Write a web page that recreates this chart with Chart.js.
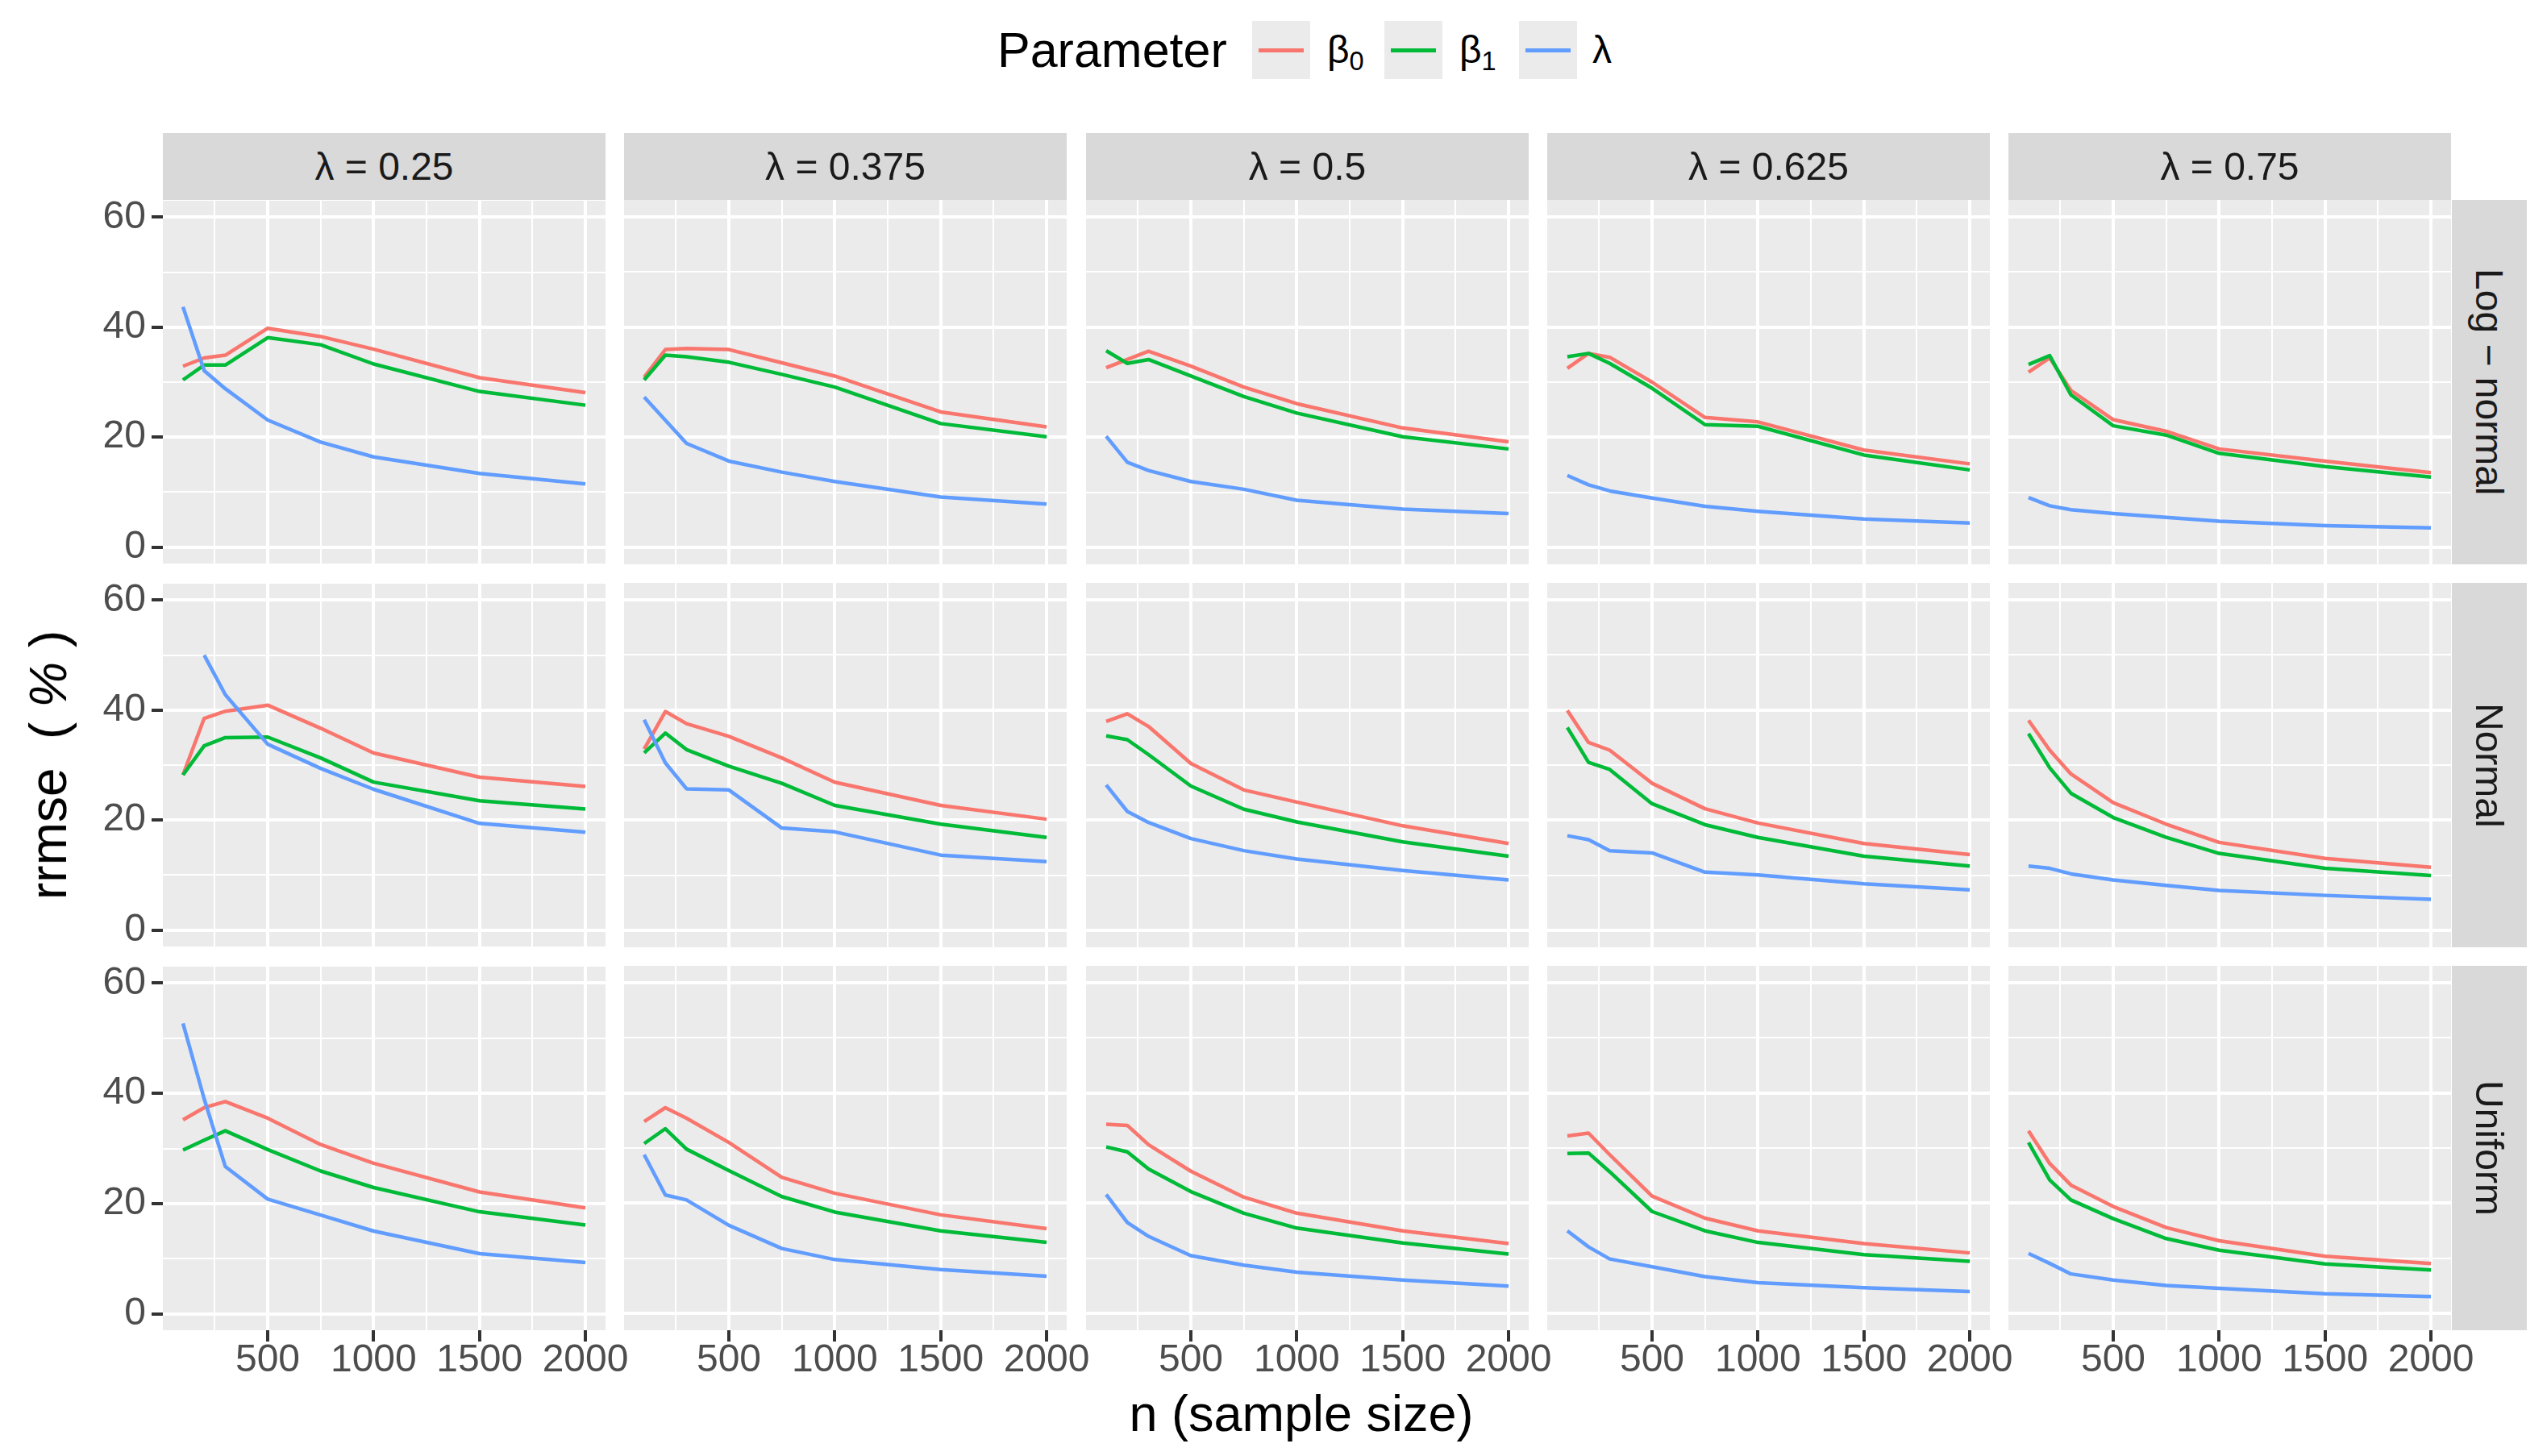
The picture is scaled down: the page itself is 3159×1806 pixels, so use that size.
<!DOCTYPE html>
<html>
<head>
<meta charset="utf-8">
<script src="https://cdn.jsdelivr.net/npm/chart.js@4.4.0/dist/chart.umd.min.js"></script>
<style>
  body { margin: 0; background: #fff; }
  #page { position: relative; width: 3159px; height: 1806px; overflow: hidden;
          font-family: "Liberation Sans", Arial, sans-serif; }
  canvas { position: absolute; }
  .strip { position: absolute; background: #D9D9D9; color: #1A1A1A; font-size: 48px;
           display: flex; align-items: center; justify-content: center; white-space: pre; }
  .strip.side { writing-mode: vertical-rl; }
  .title { position: absolute; color: #000; font-size: 63px; white-space: pre;
           transform: translate(-50%, -50%); }
  .key { position: absolute; width: 72px; height: 72px; background: #EBEBEB; }
  .key span { position: absolute; left: 8px; right: 8px; top: 34px; height: 4.5px; }
  .lab { position: absolute; font-size: 48px; color: #000; line-height: 72px; }
  .lab sub { font-size: 68%; vertical-align: -0.28em; }
</style>
</head>
<body>
<div id="page"></div>
<script>
"use strict";

// x positions (sample size) and facet levels
var nValues = [100, 200, 300, 500, 750, 1000, 1500, 2000];
var lambdaLevels = ["0.25", "0.375", "0.5", "0.625", "0.75"];
var distributions = ["Log \u2212 normal", "Normal", "Uniform"];
var paramLabels = ["\u03b2<sub>0</sub>", "\u03b2<sub>1</sub>", "\u03bb"];
var paramColors = ["#F8766D", "#00BA38", "#619CFF"];
var yTicks = [0, 10, 20, 30, 40, 50, 60];
var xTicks = [250, 500, 750, 1000, 1250, 1500, 1750, 2000];

// rrmse (%) -- one row per lambda facet (0.25 ... 0.75)
var logNormalBeta0 = [
  [32.9, 34.4, 34.9, 39.8, 38.3, 36.0, 30.8, 28.1],
  [30.9, 35.9, 36.1, 35.9, 33.5, 31.1, 24.6, 21.9],
  [32.6, 34.1, 35.6, 32.9, 29.1, 26.1, 21.7, 19.2],
  [32.5, 35.2, 34.5, 30.0, 23.6, 22.8, 17.7, 15.2],
  [31.8, 34.4, 28.5, 23.2, 21.1, 17.9, 15.7, 13.6]
];
var logNormalBeta1 = [
  [30.4, 33.1, 33.1, 38.1, 36.8, 33.3, 28.3, 25.8],
  [30.4, 34.9, 34.6, 33.6, 31.4, 29.1, 22.5, 20.1],
  [35.7, 33.4, 34.1, 31.1, 27.4, 24.4, 20.1, 17.9],
  [34.6, 35.2, 33.4, 28.9, 22.3, 22.0, 16.8, 14.1],
  [33.2, 34.8, 27.7, 22.1, 20.4, 17.1, 14.7, 12.8]
];
var logNormalLambda = [
  [43.7, 32.1, 28.8, 23.1, 19.1, 16.4, 13.4, 11.5],
  [27.3, 23.1, 18.9, 15.7, 13.7, 12.0, 9.2, 7.9],
  [20.2, 15.5, 14.0, 12.0, 10.6, 8.6, 7.0, 6.2],
  [13.1, 11.4, 10.3, 9.0, 7.5, 6.6, 5.2, 4.5],
  [9.1, 7.6, 6.9, 6.2, 5.5, 4.8, 4.0, 3.6]
];

var normalBeta0 = [
  [28.2, 38.5, 39.8, 40.9, 36.7, 32.2, 27.8, 26.1],
  [32.9, 39.7, 37.5, 35.2, 31.3, 26.9, 22.7, 20.2],
  [37.9, 39.3, 37.0, 30.3, 25.5, 23.3, 19.0, 15.8],
  [39.9, 34.1, 32.7, 26.7, 22.1, 19.5, 15.8, 13.8],
  [38.1, 32.7, 28.4, 23.2, 19.3, 16.0, 13.1, 11.5]
];
var normalBeta1 = [
  [28.2, 33.5, 35.0, 35.1, 31.3, 26.9, 23.5, 22.0],
  [32.2, 35.8, 32.8, 29.8, 26.7, 22.7, 19.3, 16.9],
  [35.3, 34.6, 31.9, 26.2, 22.0, 19.7, 16.1, 13.5],
  [36.8, 30.5, 29.2, 23.0, 19.2, 16.9, 13.5, 11.7],
  [35.7, 29.5, 24.9, 20.5, 16.9, 14.0, 11.3, 10.0]
];
var normalLambda = [
  [null, 50.0, 42.8, 33.8, 29.4, 25.6, 19.4, 17.8],
  [38.2, 30.4, 25.7, 25.5, 18.6, 17.9, 13.7, 12.5],
  [26.4, 21.6, 19.6, 16.7, 14.5, 13.0, 10.9, 9.2],
  [17.2, 16.5, 14.5, 14.1, 10.6, 10.1, 8.5, 7.4],
  [11.7, 11.3, 10.3, 9.2, 8.2, 7.3, 6.4, 5.7]
];

var uniformBeta0 = [
  [35.2, 37.4, 38.5, 35.5, 30.7, 27.3, 22.1, 19.2],
  [34.8, 37.3, 35.4, 31.0, 24.7, 21.8, 17.9, 15.4],
  [34.3, 34.1, 30.6, 25.8, 21.1, 18.2, 15.0, 12.7],
  [32.2, 32.7, 28.8, 21.3, 17.3, 15.0, 12.7, 11.0],
  [33.1, 27.2, 23.3, 19.4, 15.6, 13.2, 10.4, 9.1]
];
var uniformBeta1 = [
  [29.7, 31.5, 33.2, 29.8, 25.9, 22.9, 18.5, 16.1],
  [30.8, 33.5, 29.8, 25.9, 21.2, 18.4, 15.0, 12.9],
  [30.2, 29.3, 26.2, 22.1, 18.2, 15.5, 12.8, 10.8],
  [29.0, 29.1, 25.7, 18.5, 15.0, 12.9, 10.7, 9.5],
  [31.0, 24.2, 20.6, 17.2, 13.6, 11.5, 9.0, 7.9]
];
var uniformLambda = [
  [52.7, 39.0, 26.7, 20.8, 17.9, 15.0, 10.9, 9.3],
  [28.8, 21.5, 20.6, 16.0, 11.8, 9.8, 8.0, 6.8],
  [21.6, 16.5, 14.0, 10.5, 8.8, 7.5, 6.1, 5.0],
  [15.0, 12.1, 9.9, 8.5, 6.7, 5.6, 4.7, 4.0],
  [10.9, 9.1, 7.2, 6.1, 5.1, 4.6, 3.6, 3.1]
];

var seriesByRow = [
  [logNormalBeta0, logNormalBeta1, logNormalLambda],
  [normalBeta0, normalBeta1, normalLambda],
  [uniformBeta0, uniformBeta1, uniformLambda]
];

// page layout (pixels)
var panelW = 549, panelH = 452;
var panelLeft = [202, 774, 1347, 1919, 2491];
var panelTop = [248, 723, 1198];
var fontFamily = '"Liberation Sans", Arial, sans-serif';
var page = document.getElementById("page");

var panelBackground = {
  id: "panelBackground",
  beforeDraw: function (chart) {
    var a = chart.chartArea;
    chart.ctx.save();
    chart.ctx.fillStyle = "#EBEBEB";
    chart.ctx.fillRect(a.left, a.top, a.right - a.left, a.bottom - a.top);
    chart.ctx.restore();
  }
};

function addDiv(cls, left, top, width, height, html) {
  var d = document.createElement("div");
  d.className = cls;
  d.style.left = left + "px";
  d.style.top = top + "px";
  if (width) d.style.width = width + "px";
  if (height) d.style.height = height + "px";
  d.innerHTML = html;
  page.appendChild(d);
  return d;
}

function makePanel(row, col) {
  var left = col === 0 ? 130 : 0;
  var bottom = row === 2 ? 110 : 0;
  var pad = 30, right = 70;
  var w = left + panelW + right, h = pad + panelH + bottom + pad;
  var canvas = document.createElement("canvas");
  canvas.width = w;
  canvas.height = h;
  canvas.style.left = (panelLeft[col] - left) + "px";
  canvas.style.top = (panelTop[row] - pad) + "px";
  canvas.style.width = w + "px";
  canvas.style.height = h + "px";
  page.appendChild(canvas);

  var datasets = seriesByRow[row].map(function (series, k) {
    return {
      label: paramLabels[k],
      data: nValues.map(function (n, i) { return { x: n, y: series[col][i] }; }),
      borderColor: paramColors[k],
      borderWidth: 4.5,
      pointRadius: 0,
      tension: 0,
      order: 3 - k,
      borderJoinStyle: "round",
      spanGaps: false
    };
  });

  var tickFont = { family: fontFamily, size: 48, lineHeight: 1 };

  new Chart(canvas.getContext("2d"), {
    type: "line",
    data: { datasets: datasets },
    options: {
      responsive: false,
      animation: false,
      devicePixelRatio: 1,
      layout: { padding: { top: pad, right: right, bottom: pad, left: 0 } },
      plugins: { legend: { display: false }, tooltip: { enabled: false } },
      scales: {
        x: {
          type: "linear", min: 5, max: 2095,
          afterBuildTicks: function (s) { s.ticks = xTicks.map(function (v) { return { value: v }; }); },
          afterFit: function (s) { s.height = bottom; },
          border: { display: false },
          grid: {
            color: "#FFFFFF",
            lineWidth: function (c) { return c.tick && c.tick.value % 500 === 0 ? 4 : 2; },
            drawTicks: row === 2,
            tickLength: 14,
            tickWidth: 4,
            tickColor: function (c) { return c.tick && c.tick.value % 500 === 0 ? "#333333" : "rgba(0,0,0,0)"; }
          },
          ticks: {
            display: row === 2, autoSkip: false, maxRotation: 0, padding: 0,
            color: "#4D4D4D", font: tickFont,
            callback: function (v) { return v % 500 === 0 ? String(v) : ""; }
          }
        },
        y: {
          type: "linear", min: -3, max: 63,
          afterBuildTicks: function (s) { s.ticks = yTicks.map(function (v) { return { value: v }; }); },
          afterFit: function (s) { s.width = left; },
          border: { display: false },
          grid: {
            color: "#FFFFFF",
            lineWidth: function (c) { return c.tick && c.tick.value % 20 === 0 ? 4 : 2; },
            drawTicks: col === 0,
            tickLength: 14,
            tickWidth: 4,
            tickColor: function (c) { return c.tick && c.tick.value % 20 === 0 ? "#333333" : "rgba(0,0,0,0)"; }
          },
          ticks: {
            display: col === 0, autoSkip: false, padding: 7,
            color: "#4D4D4D", font: tickFont,
            callback: function (v) { return v % 20 === 0 ? String(v) : ""; }
          }
        }
      }
    },
    plugins: [panelBackground]
  });
}

for (var r = 0; r < 3; r++) {
  for (var c = 0; c < 5; c++) makePanel(r, c);
}

// facet strips
lambdaLevels.forEach(function (lv, c) {
  addDiv("strip", panelLeft[c], 165, panelW, 83, "\u03bb = " + lv);
});
distributions.forEach(function (d, r) {
  addDiv("strip side", 3041, panelTop[r], 93, panelH, d);
});

// axis titles
addDiv("title", 1614, 1753, 0, 0, "n (sample size)");
var yt = addDiv("title", 60, 949, 0, 0, "rrmse  ( <i>%</i> )");
yt.style.transform = "translate(-50%, -50%) rotate(-90deg)";
yt.style.fontSize = "64px";

// legend
var lt = addDiv("lab", 1237, 26, 0, 0, "Parameter");
lt.style.fontSize = "61px";
lt.style.whiteSpace = "pre";
var keyLeft = [1553, 1717, 1884];
var labLeft = [1646, 1810, 1975];
paramLabels.forEach(function (lab, k) {
  var key = addDiv("key", keyLeft[k], 26, 0, 0, "<span></span>");
  key.firstChild.style.background = paramColors[k];
  var l = addDiv("lab", labLeft[k], 26, 0, 0, lab);
  l.style.whiteSpace = "pre";
});
</script>
</body>
</html>
